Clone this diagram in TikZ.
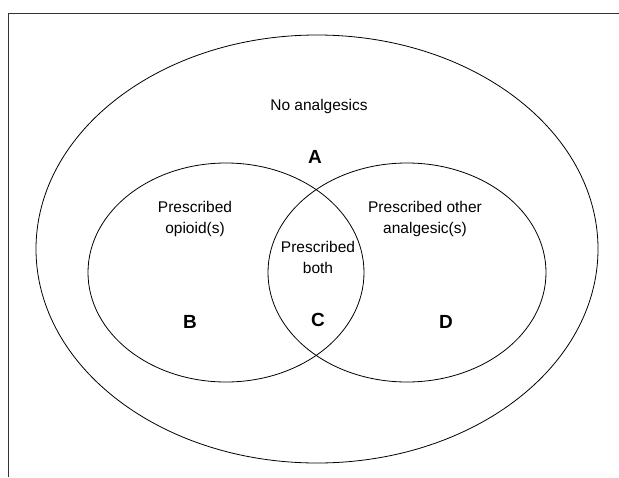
\documentclass[tikz,border=0pt]{standalone}
\usepackage{fontspec}
\setmainfont{Liberation Sans}
\usetikzlibrary{shapes.geometric}

\tikzset{
	set/.style={draw, ellipse, line width=0.8pt, inner sep=0pt},
	lbl/.style={align=center, font=\fontsize{15.5}{21}\selectfont},
	region/.style={font=\fontsize{19}{22}\selectfont\bfseries}
}

\begin{document}
\begin{tikzpicture}[x=1pt, y=-1pt]
		\useasboundingbox (0, 0) rectangle (619, 477);
		\coordinate (FB) at (8, 477);
		\coordinate (FC) at (8, 13);
		\coordinate (FR) at (619, 13);
		\draw [line width=0.8pt, black!80] (FB) -- (FC) -- (FR);
		\node [set, minimum width=562pt, minimum height=428pt] (outer) at (317, 249) {};
		\node [set, minimum width=276pt, minimum height=219pt] (opioid) at (226, 272.5) {};
		\node [set, minimum width=278pt, minimum height=219pt] (other) at (407, 272.5) {};
		\node [lbl] (none) at (319, 106) {No analgesics};
		\node [lbl] (opi) at (195, 219) {Prescribed\\opioid(s)};
		\node [lbl] (both) at (318, 257) {Prescribed\\both};
		\node [lbl] (oth) at (425, 219) {Prescribed other\\analgesic(s)};
		\node [region] (A) at (315, 157) {A};
		\node [region] (B) at (190, 322) {B};
		\node [region] (C) at (318, 320) {C};
		\node [region] (D) at (446, 322) {D};
	\end{tikzpicture}
\end{document}
